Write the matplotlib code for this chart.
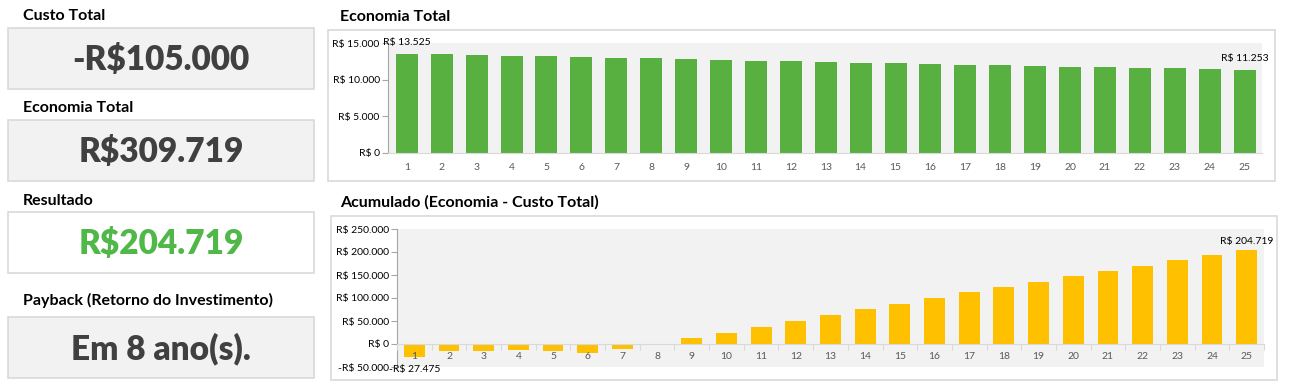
import matplotlib
matplotlib.use("Agg")
import matplotlib.pyplot as plt
from matplotlib.patches import Rectangle
from matplotlib.ticker import FixedLocator

plt.rcParams['font.family'] = ['Lato', 'DejaVu Sans']

W, H = 1289, 391

# dados
anos = list(range(1, 26))
economia = [13525, 13460, 13390, 13250, 13180, 13110, 12980, 12910, 12840, 12710,
            12580, 12510, 12440, 12310, 12250, 12180, 12050, 11990, 11920, 11790,
            11660, 11600, 11530, 11400, 11253]
acumulado = [-27475, -14600, -14600, -12400, -14600, -18900, -10200, 600, 12400, 24800,
             37900, 51000, 62000, 75100, 86000, 99100, 112300, 123200, 134100, 147300,
             158200, 169100, 182250, 193200, 204719]
ticks_economia = [0, 5000, 10000, 15000]
ticks_acumulado = [-50000, 0, 50000, 100000, 150000, 200000, 250000]

cards = [
    ("Custo Total", "-R$105.000", "#404040", "#f2f2f2"),
    ("Economia Total", "R$309.719", "#404040", "#f2f2f2"),
    ("Resultado", "R$204.719", "#50b848", "white"),
    ("Payback (Retorno do Investimento)", "Em 8 ano(s).", "#404040", "#f2f2f2"),
]

VERDE = "#57b03f"
AMARELO = "#ffc000"
CINZA = "#f2f2f2"
BORDA = "#d9d9d9"


def brl(v):
    s = f"{abs(int(round(v))):,}".replace(",", ".")
    return ("-R$ " if v < 0 else "R$ ") + s


def fx(px):
    return px / W


def fy(py):
    return 1 - py / H


fig = plt.figure(figsize=(W / 100, H / 100), dpi=100)

# cartões da esquerda
card_tops = [28, 120, 212, 317]
label_ys = [16, 108, 201, 300]
for (titulo, valor, cor, fundo), top, ly in zip(cards, card_tops, label_ys):
    bottom = top + 61
    fig.patches.append(Rectangle((fx(8), fy(bottom)), fx(306), (bottom - top) / H,
                                 transform=fig.transFigure, facecolor=fundo,
                                 edgecolor=BORDA, linewidth=1.2))
    fig.text(fx(23), fy(ly), titulo, fontsize=11.5, fontweight="bold", va="center", ha="left")
    fig.text(fx(161), fy(top + 32), valor, fontsize=24, fontweight="heavy", color=cor,
             va="center", ha="center")

# molduras dos gráficos
for (x0, y0, x1, y1) in [(328, 30, 1275, 181), (331, 216, 1277, 380)]:
    fig.patches.append(Rectangle((fx(x0), fy(y1)), fx(x1 - x0), (y1 - y0) / H,
                                 transform=fig.transFigure, facecolor="white",
                                 edgecolor=BORDA, linewidth=1.2, zorder=-1))

fig.text(fx(340), fy(17), "Economia Total", fontsize=11.5, fontweight="bold", va="center")
fig.text(fx(340), fy(202), "Acumulado (Economia - Custo Total)", fontsize=11.5,
         fontweight="bold", va="center")

# gráfico economia
ax1 = fig.add_axes([fx(388), fy(153), fx(874), 110 / H])
ax1.set_facecolor(CINZA)
ax1.bar(anos, economia, width=0.63, color=VERDE, zorder=2)
ax1.set_xlim(0.46, 25.5)
ax1.set_ylim(0, 15000)
ax1.set_yticks(ticks_economia)
ax1.set_yticklabels([brl(v) for v in ticks_economia])
ax1.set_xticks(anos)
ax1.tick_params(axis="x", length=0, pad=7, labelsize=7.5, labelcolor="#595959")
ax1.tick_params(axis="y", length=4, width=0.8, color="#a6a6a6", pad=2, labelsize=7.5)
for s in ["top", "right"]:
    ax1.spines[s].set_visible(False)
ax1.spines["left"].set_color("#a6a6a6")
ax1.spines["bottom"].set_color(BORDA)
ax1.text(anos[0], 15000, brl(economia[0]), ha="center", va="center", fontsize=7.5)
ax1.text(anos[-1], economia[-1] + 1700, brl(economia[-1]), ha="center", va="center", fontsize=7.5)

# gráfico acumulado
ax2 = fig.add_axes([fx(397), fy(367), fx(867), 138 / H])
ax2.set_facecolor(CINZA)
ax2.bar(anos, acumulado, width=0.6, color=AMARELO, zorder=2)
ax2.set_axisbelow(False)
ax2.set_xlim(0.5, 25.5)
ax2.set_ylim(-50000, 250000)
ax2.set_yticks(ticks_acumulado)
ax2.set_yticklabels([brl(v) for v in ticks_acumulado])
ax2.spines["bottom"].set_position(("data", 0))
ax2.spines["bottom"].set_color(BORDA)
ax2.spines["bottom"].set_zorder(3)
ax2.spines["left"].set_color("#a6a6a6")
for s in ["top", "right"]:
    ax2.spines[s].set_visible(False)
ax2.set_xticks(anos)
ax2.xaxis.set_minor_locator(FixedLocator([a + 0.5 for a in anos[:-1]] + [0.5, 25.5]))
ax2.tick_params(axis="x", which="major", length=0, pad=6, labelsize=7.5, labelcolor="#595959")
ax2.tick_params(axis="x", which="minor", length=4, width=0.8, color=BORDA, direction="out")
ax2.tick_params(axis="y", length=4, width=0.8, color="#a6a6a6", pad=2, labelsize=7.5)
ax2.text(anos[0], -56000, brl(acumulado[0]), ha="center", va="center", fontsize=7.5)
ax2.text(anos[-1], acumulado[-1] + 18000, brl(acumulado[-1]), ha="center", va="center", fontsize=7.5)

fig.savefig("out.png", dpi=100)
